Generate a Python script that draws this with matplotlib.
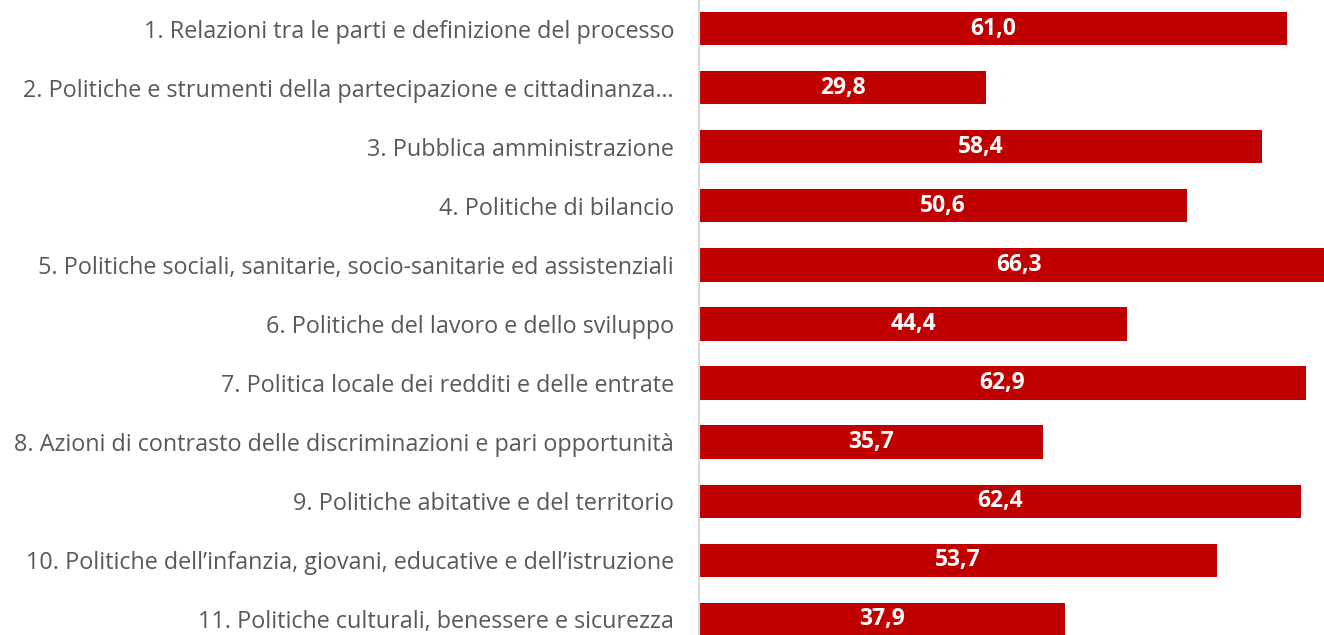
import matplotlib.pyplot as plt

categories = [
    "1. Relazioni tra le parti e definizione del processo",
    "2. Politiche e strumenti della partecipazione e cittadinanza…",
    "3. Pubblica amministrazione",
    "4. Politiche di bilancio",
    "5. Politiche sociali, sanitarie, socio-sanitarie ed assistenziali",
    "6. Politiche del lavoro e dello sviluppo",
    "7. Politica locale dei redditi e delle entrate",
    "8. Azioni di contrasto delle discriminazioni e pari opportunità",
    "9. Politiche abitative e del territorio",
    "10. Politiche dell\u2019infanzia, giovani, educative e dell\u2019istruzione",
    "11. Politiche culturali, benessere e sicurezza",
]
values = [61.0, 29.8, 58.4, 50.6, 66.3, 44.4, 62.9, 35.7, 62.4, 53.7, 37.9]

plt.rcParams['font.family'] = ['Open Sans', 'DejaVu Sans']

fig = plt.figure(figsize=(13.24, 6.35), dpi=100)
ax = fig.add_axes([699 / 1324, 0, 1 - 699 / 1324, 1])

ypos = list(range(len(values)))
bars = ax.barh(ypos, values, height=0.56, color='#C00000')

for b, v in zip(bars, values):
    ax.text(v / 2, b.get_y() + b.get_height() / 2, f"{v:.1f}".replace('.', ','),
            ha='center', va='center', color='white', fontsize=16.5, fontweight='bold')

ax.set_xlim(0, 64.8)
ax.set_ylim(10.27, -0.49)
ax.set_yticks(ypos)
ax.set_yticklabels(categories, fontsize=16.8, color='#595959')
ax.tick_params(axis='y', length=0, pad=18)
ax.set_xticks([])
for s in ['top', 'right', 'bottom']:
    ax.spines[s].set_visible(False)
ax.spines['left'].set_color('#D9D9D9')
ax.spines['left'].set_linewidth(1.5)

fig.savefig('out.png', dpi=100)
